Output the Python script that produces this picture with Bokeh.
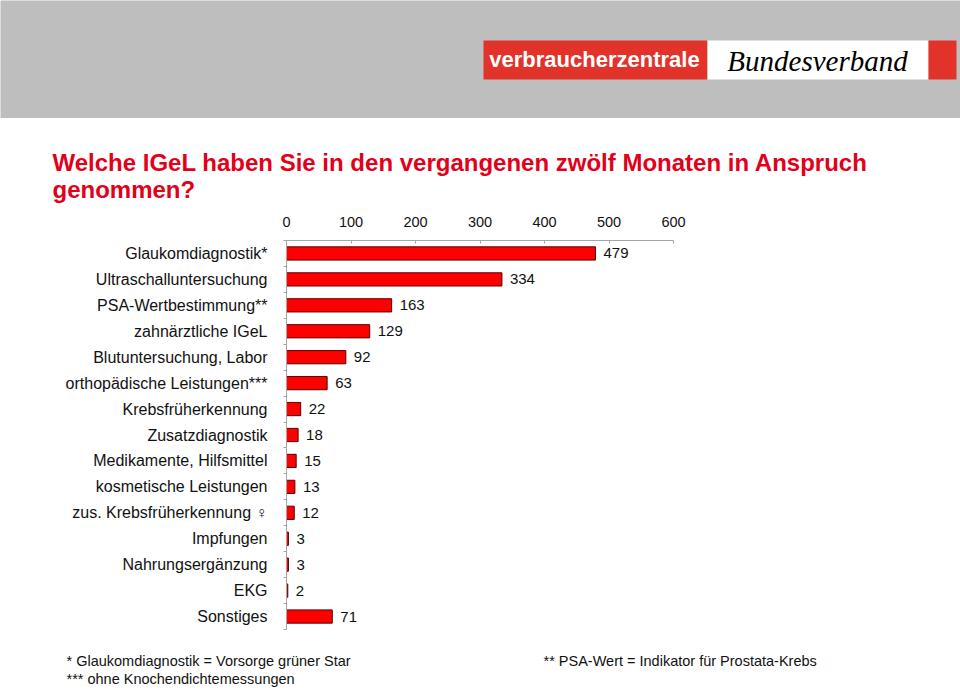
from bokeh.plotting import figure
from bokeh.models import Range1d, FixedTicker
from bokeh.layouts import column
from bokeh.embed import file_html
from bokeh.resources import INLINE
from bokeh.core.properties import value

# ---------------- data ----------------
categories = [
    "Glaukomdiagnostik*",
    "Ultraschalluntersuchung",
    "PSA-Wertbestimmung**",
    "zahnärztliche IGeL",
    "Blutuntersuchung, Labor",
    "orthopädische Leistungen***",
    "Krebsfrüherkennung",
    "Zusatzdiagnostik",
    "Medikamente, Hilfsmittel",
    "kosmetische Leistungen",
    "zus. Krebsfrüherkennung ♀",
    "Impfungen",
    "Nahrungsergänzung",
    "EKG",
    "Sonstiges",
]
counts = [479, 334, 163, 129, 92, 63, 22, 18, 15, 13, 12, 3, 3, 2, 71]
x_ticks = [0, 100, 200, 300, 400, 500, 600]
title_lines = [
    "Welche IGeL haben Sie in den vergangenen zwölf Monaten in Anspruch",
    "genommen?",
]
footnotes = [
    "* Glaukomdiagnostik = Vorsorge grüner Star",
    "** PSA-Wert = Indikator für Prostata-Krebs",
    "*** ohne Knochendichtemessungen",
]
logo_left = "verbraucherzentrale"
logo_right = "Bundesverband"

W = 960
FONT = "Liberation Sans"
RED = "#e2001a"
LOGO_RED = "#e2332b"
INK = "#111111"


def canvas(h, bg):
    f = figure(width=W, height=h, x_range=Range1d(0, W), y_range=Range1d(h, 0),
               output_backend="svg", toolbar_location=None, min_border=0,
               x_axis_location=None, y_axis_location=None, frame_align=False)
    f.grid.visible = False
    f.outline_line_color = None
    f.background_fill_color = bg
    f.border_fill_color = bg
    return f


# ---------------- header (page y 0..118) ----------------
header = canvas(118, "#bebebe")
header.quad(left=[483, 707, 928], right=[707, 928, 956], top=[40, 40, 40], bottom=[79, 79, 79],
            fill_color=[LOGO_RED, "white", LOGO_RED], line_color=None)
header.text(x=[594], y=[59], text=[logo_left], text_align="center", text_baseline="middle",
            text_font=value(FONT), text_font_style="bold", text_font_size="22px",
            text_color="white")
header.text(x=[817], y=[60], text=[logo_right], text_align="center", text_baseline="middle",
            text_font=value("Liberation Serif"), text_font_style="italic",
            text_font_size="29px", text_color="black")

# ---------------- title (page y 118..205) ----------------
tfig = canvas(87, "white")
tfig.text(x=[52, 52], y=[161.5 - 118, 188.5 - 118], text=title_lines, text_align="left",
          text_baseline="middle", text_font=value(FONT), text_font_style="bold",
          text_font_size="24px", text_color=RED)

# ---------------- main chart (page y 205..640) ----------------
FL, FR, FT, FB = 286, 673, 240, 629
TOP, BOT = 205, 640
n = len(categories)
idx = list(range(n))
p = figure(width=W, height=BOT - TOP, x_range=Range1d(0, 600), y_range=Range1d(n - 0.5, -0.5),
           x_axis_location="above", output_backend="svg", toolbar_location=None,
           min_border_left=FL, min_border_right=W - FR, min_border_top=FT - TOP,
           min_border_bottom=BOT - FB, frame_align=False)
p.grid.visible = False
p.outline_line_color = None

p.hbar(y=idx, right=counts, left=0, height=0.51, fill_color="#ff0000", line_color="#5a0000",
       line_width=1)
p.text(x=counts, y=idx, text=[str(c) for c in counts], x_offset=8, text_baseline="middle",
       text_align="left", text_font=value(FONT), text_font_size="15px", text_color=INK)

AX = "#a6a6a6"
p.xaxis.ticker = FixedTicker(ticks=x_ticks)
p.xaxis.axis_line_color = AX
p.xaxis.major_tick_line_color = AX
p.xaxis.major_tick_in = 3
p.xaxis.major_tick_out = 0
p.xaxis.minor_tick_line_color = None
p.xaxis.major_label_standoff = 14
p.xaxis.major_label_text_font = FONT
p.xaxis.major_label_text_font_size = "14.5px"
p.xaxis.major_label_text_color = INK

p.yaxis.ticker = FixedTicker(ticks=idx, minor_ticks=[i - 0.5 for i in range(n + 1)])
p.yaxis.major_label_overrides = {i: c for i, c in enumerate(categories)}
p.yaxis.axis_line_color = AX
p.yaxis.major_tick_line_color = None
p.yaxis.major_tick_in = 0
p.yaxis.major_tick_out = 0
p.yaxis.minor_tick_line_color = AX
p.yaxis.minor_tick_in = 0
p.yaxis.minor_tick_out = 3
p.yaxis.major_label_standoff = 16
p.yaxis.major_label_text_font = FONT
p.yaxis.major_label_text_font_size = "16px"
p.yaxis.major_label_text_color = INK

# ---------------- footnotes (page y 640..690) ----------------
ffig = canvas(50, "white")
ffig.text(x=[66, 543, 66], y=[660.5 - 640, 660.5 - 640, 678 - 640], text=footnotes,
          text_align="left", text_baseline="middle", text_font=value(FONT),
          text_font_size="14.5px", text_color=INK)

layout = column(header, tfig, p, ffig, spacing=0)
open("out.html", "w").write(file_html(layout, INLINE))
